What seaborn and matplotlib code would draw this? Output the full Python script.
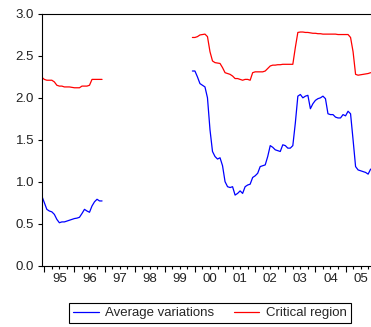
import numpy as np
import pandas as pd
import matplotlib
matplotlib.use("Agg")
import matplotlib.pyplot as plt
from matplotlib.ticker import MultipleLocator, FuncFormatter
import seaborn as sns

# Monthly observations, two sample periods
seg1_start = "1994-12"
seg2_start = "1999-12"

avg_var_1 = [0.83, 0.75, 0.67, 0.65, 0.64, 0.61, 0.55, 0.51, 0.52, 0.52, 0.53, 0.54, 0.55,
             0.56, 0.565, 0.575, 0.62, 0.67, 0.65, 0.635, 0.71, 0.76, 0.79, 0.77, 0.77]
crit_reg_1 = [2.245, 2.22, 2.21, 2.21, 2.21, 2.19, 2.15, 2.14, 2.14, 2.13, 2.13, 2.13, 2.125,
              2.12, 2.12, 2.12, 2.14, 2.14, 2.14, 2.15, 2.22, 2.22, 2.22, 2.22, 2.22]

avg_var_2 = [2.32, 2.32, 2.25, 2.17, 2.15, 2.13, 2.00, 1.62, 1.36, 1.30, 1.27, 1.285, 1.19,
             1.00, 0.94, 0.93, 0.94, 0.84, 0.86, 0.89, 0.86, 0.94, 0.96, 0.97, 1.05, 1.07,
             1.10, 1.18, 1.19, 1.20, 1.30, 1.43, 1.41, 1.38, 1.37, 1.36, 1.44, 1.43, 1.40,
             1.40, 1.43, 1.70, 2.02, 2.04, 2.00, 2.02, 2.03, 1.87, 1.93, 1.97, 1.99, 2.00,
             2.02, 1.99, 1.81, 1.80, 1.80, 1.77, 1.76, 1.76, 1.80, 1.785, 1.84, 1.81, 1.50,
             1.18, 1.14, 1.13, 1.12, 1.11, 1.09, 1.15]
crit_reg_2 = [2.72, 2.72, 2.73, 2.75, 2.755, 2.76, 2.73, 2.55, 2.44, 2.42, 2.415, 2.41, 2.36,
              2.30, 2.29, 2.28, 2.26, 2.23, 2.23, 2.22, 2.21, 2.22, 2.22, 2.21, 2.30, 2.31,
              2.31, 2.31, 2.31, 2.32, 2.35, 2.38, 2.39, 2.39, 2.395, 2.395, 2.40, 2.40, 2.40,
              2.40, 2.40, 2.60, 2.78, 2.785, 2.785, 2.78, 2.78, 2.775, 2.77, 2.77, 2.765,
              2.765, 2.76, 2.76, 2.76, 2.76, 2.76, 2.76, 2.755, 2.755, 2.755, 2.755, 2.755,
              2.72, 2.55, 2.28, 2.27, 2.275, 2.28, 2.285, 2.29, 2.30]

year_labels = ["95", "96", "97", "98", "99", "00", "01", "02", "03", "04", "05"]
series_names = ["Average variations", "Critical region"]

base = pd.Period("1995-01", freq="M")


def month_index(start, n):
    periods = pd.period_range(start=start, periods=n, freq="M")
    return np.array([(p - base).n for p in periods], dtype=float)


frames = []
for seg, (start, av, cr) in enumerate([(seg1_start, avg_var_1, crit_reg_1),
                                       (seg2_start, avg_var_2, crit_reg_2)]):
    m = month_index(start, len(av))
    frames.append(pd.DataFrame({"month": m, "value": av, "series": series_names[0], "seg": seg}))
    frames.append(pd.DataFrame({"month": m, "value": cr, "series": series_names[1], "seg": seg}))
df = pd.concat(frames, ignore_index=True)

sns.set_style("ticks")
plt.rcParams["font.family"] = ["Liberation Sans", "DejaVu Sans"]
plt.rcParams["font.size"] = 9.5

fig = plt.figure(figsize=(3.71, 3.27), dpi=100)
ax = fig.add_axes([42 / 371, 1 - 265.5 / 327, 330.9 / 371, (265.5 - 14) / 327])

sns.lineplot(data=df, x="month", y="value", hue="series", units="seg", estimator=None,
             palette={series_names[0]: "#0000ff", series_names[1]: "#ff0000"},
             linewidth=0.9, ax=ax, legend=False)

ax.set_xlim(-0.92, 130.9)
ax.set_ylim(0, 3.0)
ax.set_xlabel("")
ax.set_ylabel("")

ax.yaxis.set_major_locator(MultipleLocator(0.5))
ax.yaxis.set_major_formatter(FuncFormatter(lambda v, p: f"{v:.1f}"))

ax.xaxis.set_major_locator(MultipleLocator(12))
ax.xaxis.set_major_formatter(FuncFormatter(lambda v, p: ""))
ax.xaxis.set_minor_locator(MultipleLocator(3))


def year_fmt(v, p):
    k = int(round(v))
    if k % 12 == 6:
        i = k // 12
        if 0 <= i < len(year_labels):
            return year_labels[i]
    return ""


ax.xaxis.set_minor_formatter(FuncFormatter(year_fmt))

ax.tick_params(axis="x", which="major", direction="out", length=4.0, width=0.8, color="black")
ax.tick_params(axis="x", which="minor", direction="out", length=2.3, width=0.8,
               color="black", labelsize=9.5, pad=3.2, labelcolor="#222222")
ax.tick_params(axis="y", which="major", direction="out", length=3.2, width=0.8,
               color="black", labelsize=9.5, pad=2.5, labelcolor="#222222")

for side in ["left", "bottom", "top", "right"]:
    ax.spines[side].set_visible(True)
    ax.spines[side].set_color("black")
    ax.spines[side].set_linewidth(0.8)

handles = [plt.Line2D([], [], color="#0000ff", lw=0.9),
           plt.Line2D([], [], color="#ff0000", lw=0.9)]
leg = fig.legend(handles, series_names, loc="center", bbox_to_anchor=(210 / 371, 1 - 313 / 327),
                 ncol=2, frameon=True, fancybox=False, framealpha=1, edgecolor="black",
                 fontsize=9.5, handlelength=1.9, handletextpad=0.5, columnspacing=1.5,
                 borderpad=0.3, borderaxespad=0)
leg.get_frame().set_linewidth(0.8)

fig.savefig("out.png", dpi=100)
